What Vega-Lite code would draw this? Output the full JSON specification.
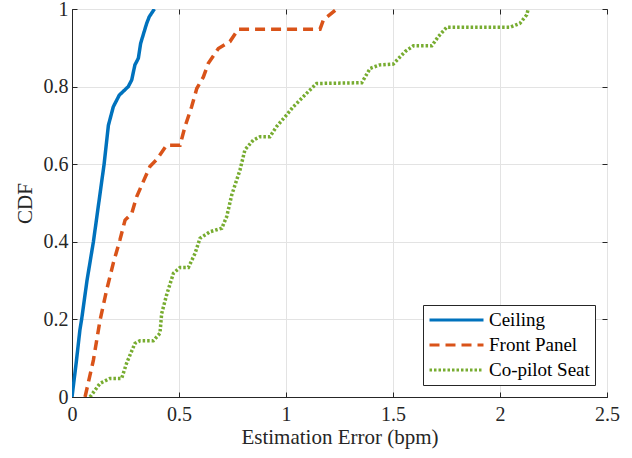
{
  "$schema": "https://vega.github.io/schema/vega-lite/v6.json",
  "width": 535,
  "height": 388,
  "autosize": {"type": "none"},
  "padding": {"left": 72, "top": 9, "right": 25, "bottom": 61},
  "background": "white",
  "config": {
    "font": "Liberation Serif, Times New Roman, serif",
    "view": {"stroke": "#262626", "strokeWidth": 1},
    "axis": {
      "domainColor": "#262626",
      "tickColor": "#262626",
      "gridColor": "#e3e3e3",
      "labelColor": "#262626",
      "titleColor": "#262626",
      "labelFont": "Liberation Serif, Times New Roman, serif",
      "titleFont": "Liberation Serif, Times New Roman, serif",
      "labelFontSize": 20,
      "titleFontSize": 21,
      "titleFontWeight": "normal",
      "labelFlush": false,
      "labelOverlap": false,
      "tickSize": -5
    },
    "legend": {
      "labelFont": "Liberation Serif, Times New Roman, serif"
    }
  },
  "data": {
    "values": [
      {"series": "Ceiling", "x": 0.0, "y": 0.0},
      {"series": "Ceiling", "x": 0.02, "y": 0.09},
      {"series": "Ceiling", "x": 0.037, "y": 0.173},
      {"series": "Ceiling", "x": 0.045, "y": 0.2},
      {"series": "Ceiling", "x": 0.07, "y": 0.3},
      {"series": "Ceiling", "x": 0.1, "y": 0.4},
      {"series": "Ceiling", "x": 0.12, "y": 0.48},
      {"series": "Ceiling", "x": 0.15, "y": 0.6},
      {"series": "Ceiling", "x": 0.17, "y": 0.7},
      {"series": "Ceiling", "x": 0.193, "y": 0.748},
      {"series": "Ceiling", "x": 0.221, "y": 0.778},
      {"series": "Ceiling", "x": 0.263, "y": 0.8},
      {"series": "Ceiling", "x": 0.279, "y": 0.817},
      {"series": "Ceiling", "x": 0.294, "y": 0.856},
      {"series": "Ceiling", "x": 0.31, "y": 0.873},
      {"series": "Ceiling", "x": 0.321, "y": 0.912},
      {"series": "Ceiling", "x": 0.349, "y": 0.963},
      {"series": "Ceiling", "x": 0.361, "y": 0.98},
      {"series": "Ceiling", "x": 0.385, "y": 1.0},

      {"series": "Front Panel", "x": 0.061, "y": 0.0},
      {"series": "Front Panel", "x": 0.1, "y": 0.095},
      {"series": "Front Panel", "x": 0.131, "y": 0.198},
      {"series": "Front Panel", "x": 0.162, "y": 0.276},
      {"series": "Front Panel", "x": 0.193, "y": 0.345},
      {"series": "Front Panel", "x": 0.224, "y": 0.405},
      {"series": "Front Panel", "x": 0.248, "y": 0.456},
      {"series": "Front Panel", "x": 0.279, "y": 0.473},
      {"series": "Front Panel", "x": 0.302, "y": 0.516},
      {"series": "Front Panel", "x": 0.333, "y": 0.555},
      {"series": "Front Panel", "x": 0.364, "y": 0.594},
      {"series": "Front Panel", "x": 0.396, "y": 0.612},
      {"series": "Front Panel", "x": 0.442, "y": 0.649},
      {"series": "Front Panel", "x": 0.505, "y": 0.649},
      {"series": "Front Panel", "x": 0.528, "y": 0.697},
      {"series": "Front Panel", "x": 0.559, "y": 0.748},
      {"series": "Front Panel", "x": 0.583, "y": 0.795},
      {"series": "Front Panel", "x": 0.614, "y": 0.825},
      {"series": "Front Panel", "x": 0.637, "y": 0.86},
      {"series": "Front Panel", "x": 0.684, "y": 0.898},
      {"series": "Front Panel", "x": 0.738, "y": 0.916},
      {"series": "Front Panel", "x": 0.777, "y": 0.948},
      {"series": "Front Panel", "x": 1.159, "y": 0.948},
      {"series": "Front Panel", "x": 1.175, "y": 0.972},
      {"series": "Front Panel", "x": 1.237, "y": 1.0},

      {"series": "Co-pilot Seat", "x": 0.084, "y": 0.0},
      {"series": "Co-pilot Seat", "x": 0.131, "y": 0.035},
      {"series": "Co-pilot Seat", "x": 0.178, "y": 0.048},
      {"series": "Co-pilot Seat", "x": 0.232, "y": 0.048},
      {"series": "Co-pilot Seat", "x": 0.255, "y": 0.087},
      {"series": "Co-pilot Seat", "x": 0.294, "y": 0.138},
      {"series": "Co-pilot Seat", "x": 0.318, "y": 0.145},
      {"series": "Co-pilot Seat", "x": 0.38, "y": 0.145},
      {"series": "Co-pilot Seat", "x": 0.411, "y": 0.164},
      {"series": "Co-pilot Seat", "x": 0.419, "y": 0.215},
      {"series": "Co-pilot Seat", "x": 0.442, "y": 0.263},
      {"series": "Co-pilot Seat", "x": 0.474, "y": 0.319},
      {"series": "Co-pilot Seat", "x": 0.505, "y": 0.334},
      {"series": "Co-pilot Seat", "x": 0.544, "y": 0.334},
      {"series": "Co-pilot Seat", "x": 0.575, "y": 0.37},
      {"series": "Co-pilot Seat", "x": 0.598, "y": 0.409},
      {"series": "Co-pilot Seat", "x": 0.645, "y": 0.426},
      {"series": "Co-pilot Seat", "x": 0.7, "y": 0.435},
      {"series": "Co-pilot Seat", "x": 0.723, "y": 0.465},
      {"series": "Co-pilot Seat", "x": 0.746, "y": 0.52},
      {"series": "Co-pilot Seat", "x": 0.785, "y": 0.585},
      {"series": "Co-pilot Seat", "x": 0.808, "y": 0.637},
      {"series": "Co-pilot Seat", "x": 0.847, "y": 0.662},
      {"series": "Co-pilot Seat", "x": 0.879, "y": 0.671},
      {"series": "Co-pilot Seat", "x": 0.925, "y": 0.671},
      {"series": "Co-pilot Seat", "x": 0.956, "y": 0.697},
      {"series": "Co-pilot Seat", "x": 1.003, "y": 0.727},
      {"series": "Co-pilot Seat", "x": 1.034, "y": 0.748},
      {"series": "Co-pilot Seat", "x": 1.065, "y": 0.765},
      {"series": "Co-pilot Seat", "x": 1.104, "y": 0.787},
      {"series": "Co-pilot Seat", "x": 1.143, "y": 0.808},
      {"series": "Co-pilot Seat", "x": 1.354, "y": 0.81},
      {"series": "Co-pilot Seat", "x": 1.393, "y": 0.847},
      {"series": "Co-pilot Seat", "x": 1.439, "y": 0.856},
      {"series": "Co-pilot Seat", "x": 1.501, "y": 0.858},
      {"series": "Co-pilot Seat", "x": 1.556, "y": 0.89},
      {"series": "Co-pilot Seat", "x": 1.595, "y": 0.905},
      {"series": "Co-pilot Seat", "x": 1.681, "y": 0.905},
      {"series": "Co-pilot Seat", "x": 1.712, "y": 0.929},
      {"series": "Co-pilot Seat", "x": 1.751, "y": 0.953},
      {"series": "Co-pilot Seat", "x": 2.047, "y": 0.953},
      {"series": "Co-pilot Seat", "x": 2.093, "y": 0.963},
      {"series": "Co-pilot Seat", "x": 2.125, "y": 0.985},
      {"series": "Co-pilot Seat", "x": 2.132, "y": 1.0}
    ]
  },
  "layer": [
    {
      "mark": {"type": "line", "strokeWidth": 3.5, "strokeCap": "butt", "clip": true},
      "encoding": {
        "x": {
          "field": "x", "type": "quantitative",
          "scale": {"domain": [0, 2.5], "nice": false, "zero": false},
          "axis": {"values": [0, 0.5, 1, 1.5, 2, 2.5], "format": "~g", "title": "Estimation Error (bpm)", "labelPadding": 12, "titlePadding": 2, "grid": true}
        },
        "y": {
          "field": "y", "type": "quantitative",
          "scale": {"domain": [0, 1], "nice": false},
          "axis": {"values": [0, 0.2, 0.4, 0.6, 0.8, 1], "format": "~g", "title": "CDF", "labelPadding": 9, "titlePadding": 8, "grid": true}
        },
        "color": {
          "field": "series", "type": "nominal",
          "scale": {"domain": ["Ceiling", "Front Panel", "Co-pilot Seat"], "range": ["#0072BD", "#D95319", "#77AC30"]},
          "legend": {
            "title": null,
            "orient": "none",
            "legendX": 351,
            "legendY": 296,
            "direction": "vertical",
            "fillColor": "white",
            "strokeColor": "#262626",
            "padding": 5,
            "symbolType": "stroke",
            "symbolSize": 2916,
            "symbolStrokeWidth": 3,
            "clipHeight": 20,
            "rowPadding": 5,
            "labelFont": "Liberation Serif, Times New Roman, serif",
            "labelFontSize": 19,
            "labelColor": "#000000",
            "labelOffset": 4
          }
        },
        "strokeDash": {
          "field": "series", "type": "nominal",
          "scale": {"domain": ["Ceiling", "Front Panel", "Co-pilot Seat"], "range": [[1, 0], [10, 6], [2.5, 2]]},
          "legend": {
            "title": null,
            "orient": "none",
            "legendX": 351,
            "legendY": 296,
            "direction": "vertical",
            "fillColor": "white",
            "strokeColor": "#262626",
            "padding": 5,
            "symbolType": "stroke",
            "symbolSize": 2916,
            "symbolStrokeWidth": 3,
            "clipHeight": 20,
            "rowPadding": 5,
            "labelFont": "Liberation Serif, Times New Roman, serif",
            "labelFontSize": 19,
            "labelColor": "#000000",
            "labelOffset": 4
          }
        }
      }
    },
    {
      "mark": {"type": "line", "opacity": 0},
      "encoding": {
        "x": {
          "field": "x", "type": "quantitative",
          "axis": {"orient": "top", "values": [0, 0.5, 1, 1.5, 2, 2.5], "labels": false, "title": null, "grid": false, "domain": false}
        },
        "y": {
          "field": "y", "type": "quantitative",
          "axis": {"orient": "right", "values": [0, 0.2, 0.4, 0.6, 0.8, 1], "labels": false, "title": null, "grid": false, "domain": false}
        },
        "detail": {"field": "series"}
      }
    }
  ],
  "resolve": {"axis": {"x": "independent", "y": "independent"}}
}
